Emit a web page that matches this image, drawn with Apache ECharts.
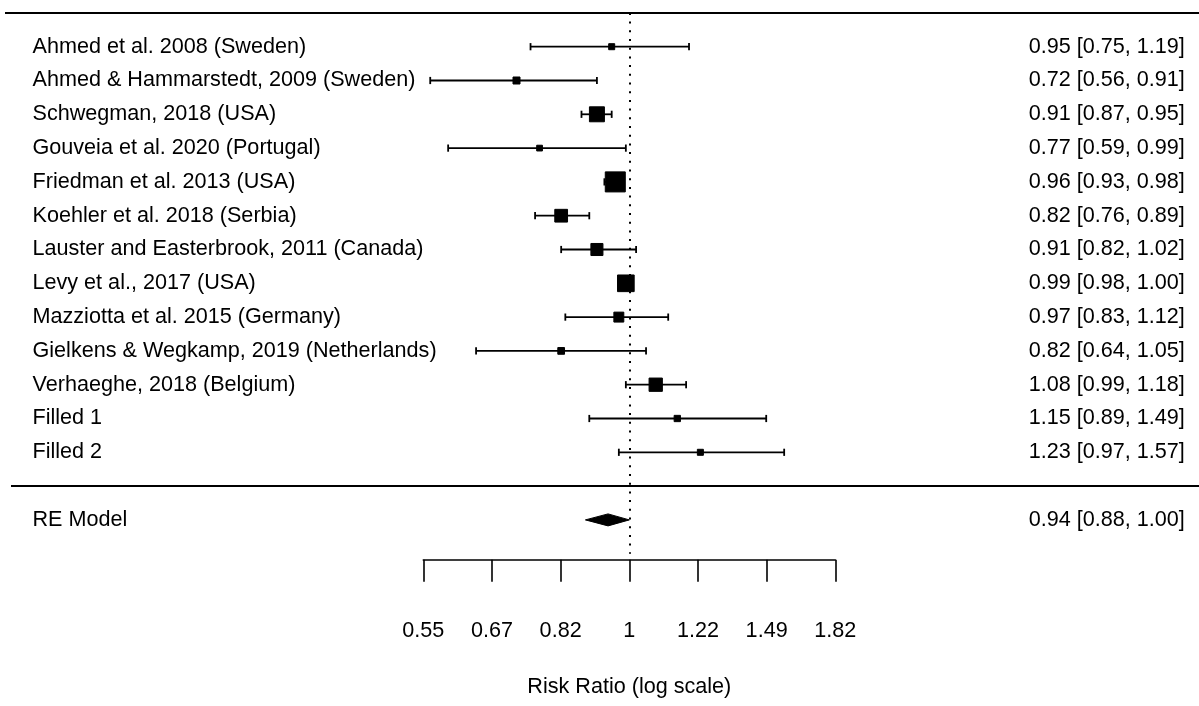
<!DOCTYPE html>
<html><head><meta charset="utf-8">
<script src="https://cdn.jsdelivr.net/npm/echarts@6/dist/echarts.min.js"></script>
<style>html,body{margin:0;padding:0;background:#fff}#c{width:1199px;height:706px}</style>
</head><body><div id="c"></div>
<script>
const studies = [
  'Ahmed et al. 2008 (Sweden)',
  'Ahmed & Hammarstedt, 2009 (Sweden)',
  'Schwegman, 2018 (USA)',
  'Gouveia et al. 2020 (Portugal)',
  'Friedman et al. 2013 (USA)',
  'Koehler et al. 2018 (Serbia)',
  'Lauster and Easterbrook, 2011 (Canada)',
  'Levy et al., 2017 (USA)',
  'Mazziotta et al. 2015 (Germany)',
  'Gielkens & Wegkamp, 2019 (Netherlands)',
  'Verhaeghe, 2018 (Belgium)',
  'Filled 1',
  'Filled 2'
];
const est   = [0.95, 0.72, 0.91, 0.77, 0.96, 0.82, 0.91, 0.99, 0.97, 0.82, 1.08, 1.15, 1.23];
const lower = [0.75, 0.56, 0.87, 0.59, 0.93, 0.76, 0.82, 0.98, 0.83, 0.64, 0.99, 0.89, 0.97];
const upper = [1.19, 0.91, 0.95, 0.99, 0.98, 0.89, 1.02, 1.00, 1.12, 1.05, 1.18, 1.49, 1.57];
const weights = [4.3, 5.0, 10.7, 4.1, 14.3, 9.1, 8.6, 11.9, 7.1, 4.8, 9.5, 4.5, 4.3]; // approx. % weight
const modelLabel = 'RE Model';
const modelValues = [0.94, 0.88, 1.00]; // estimate, lower, upper
const tickLabels = ['0.55', '0.67', '0.82', '1', '1.22', '1.49', '1.82'];
const axisTitle = 'Risk Ratio (log scale)';

const FONT = "'Liberation Sans', Arial, sans-serif";
const FS = 21.6;
const fmt = v => v.toFixed(2);
const rows = [''].concat(studies, ['', modelLabel, '']);
const ciText = rows.map((r, i) => {
  if (i >= 1 && i <= studies.length) {
    const k = i - 1;
    return fmt(est[k]) + ' [' + fmt(lower[k]) + ', ' + fmt(upper[k]) + ']';
  }
  if (r === modelLabel) return fmt(modelValues[0]) + ' [' + fmt(modelValues[1]) + ', ' + fmt(modelValues[2]) + ']';
  return '';
});

const data = studies.map((s, i) => [Math.log(est[i]), i + 1, Math.log(lower[i]), Math.log(upper[i]), weights[i], 0]);
data.push([Math.log(modelValues[0]), rows.indexOf(modelLabel), Math.log(modelValues[1]), Math.log(modelValues[2]), 0, 1]);

const axisMin = -0.6, axisMax = 0.6, step = 0.2;

const chart = echarts.init(document.getElementById('c'), null, {renderer: 'canvas'});
chart.setOption({
  animation: false,
  backgroundColor: '#fff',
  textStyle: {fontFamily: FONT},
  grid: {left: 423.3, right: 363.7, top: 12.9, bottom: 152.3, containLabel: false, outerBoundsMode: 'none'},
  xAxis: {
    type: 'value', min: axisMin, max: axisMax, interval: step,
    offset: 6,
    splitLine: {show: false},
    axisLine: {show: true, lineStyle: {color: '#000', width: 1.6}},
    axisTick: {show: true, length: 22, lineStyle: {color: '#000', width: 1.6}},
    axisLabel: {
      margin: 60, color: '#000', fontSize: FS, fontFamily: FONT,
      showMinLabel: true, showMaxLabel: true,
      formatter: v => tickLabels[Math.round((v - axisMin) / step)]
    },
    name: axisTitle, nameLocation: 'middle', nameGap: 116,
    nameTextStyle: {color: '#000', fontSize: FS, fontFamily: FONT}
  },
  yAxis: [
    {
      type: 'category', data: rows, inverse: true, boundaryGap: false, position: 'left',
      axisLine: {show: false}, axisTick: {show: false}, splitLine: {show: false},
      axisLabel: {align: 'left', margin: 390.8, color: '#000', fontSize: FS, fontFamily: FONT, interval: 0}
    },
    {
      type: 'category', data: ciText, inverse: true, boundaryGap: false, position: 'right',
      axisLine: {show: false}, axisTick: {show: false}, splitLine: {show: false},
      axisLabel: {align: 'right', margin: 349.5, color: '#000', fontSize: FS, fontFamily: FONT, interval: 0}
    }
  ],
  series: [{
    type: 'custom',
    xAxisIndex: 0, yAxisIndex: 0,
    data: data,
    clip: false,
    renderItem: function (params, api) {
      const y = api.value(1);
      const pE = api.coord([api.value(0), y]);
      const pL = api.coord([api.value(2), y]);
      const pH = api.coord([api.value(3), y]);
      const st = {fill: '#000', stroke: '#000'};
      if (api.value(5) === 1) {
        const h = 6;
        return {
          type: 'polygon',
          shape: {points: [[pL[0], pE[1]], [pE[0], pE[1] - h], [pH[0], pE[1]], [pE[0], pE[1] + h]]},
          style: {fill: '#000', stroke: '#000', lineWidth: 1}
        };
      }
      const s = api.value(4) * 1.4;
      const c = 3.6;
      return {
        type: 'group',
        children: [
          {type: 'line', shape: {x1: pL[0], y1: pL[1], x2: pH[0], y2: pH[1]}, style: {stroke: '#000', lineWidth: 1.8}},
          {type: 'line', shape: {x1: pL[0], y1: pL[1] - c, x2: pL[0], y2: pL[1] + c}, style: {stroke: '#000', lineWidth: 1.8}},
          {type: 'line', shape: {x1: pH[0], y1: pH[1] - c, x2: pH[0], y2: pH[1] + c}, style: {stroke: '#000', lineWidth: 1.8}},
          {type: 'rect', shape: {x: pE[0] - s / 2, y: pE[1] - s / 2, width: s, height: s}, style: st}
        ]
      };
    },
    markLine: {
      silent: true, symbol: ['none', 'none'],
      label: {show: false},
      lineStyle: {color: '#000', width: 2, type: [2, 6.7]},
      data: [{xAxis: 0}]
    }
  }]
});

const yTop = chart.convertToPixel({yAxisIndex: 0}, 0);
const ySep = chart.convertToPixel({yAxisIndex: 0}, rows.length - 3);
chart.setOption({
  graphic: [
    {type: 'line', shape: {x1: 5, y1: yTop, x2: 1199, y2: yTop}, style: {stroke: '#000', lineWidth: 2}},
    {type: 'line', shape: {x1: 11, y1: ySep, x2: 1199, y2: ySep}, style: {stroke: '#000', lineWidth: 2}}
  ]
});
</script>
</body></html>
